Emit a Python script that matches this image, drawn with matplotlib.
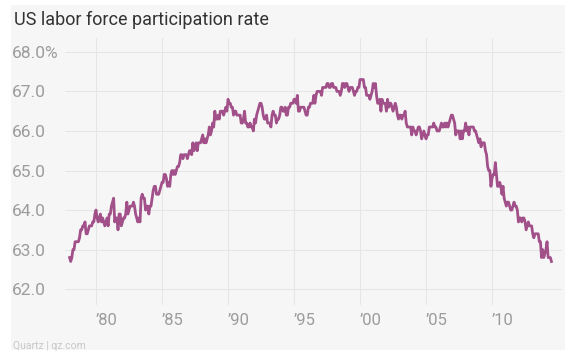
import matplotlib.pyplot as plt
from matplotlib.patches import Rectangle

plt.rcParams['font.family'] = ['Roboto', 'DejaVu Sans']

start_year = 1978
# monthly participation rate (%), Jan 1978 onward
rate = [
    62.8, 62.7, 62.8, 63.0, 63.0, 63.2, 63.2, 63.2, 63.2, 63.3, 63.5, 63.5,
    63.6, 63.6, 63.7, 63.4, 63.4, 63.5, 63.6, 63.6, 63.6, 63.7, 63.7, 63.9,
    64.0, 63.8, 63.7, 63.8, 63.9, 63.7, 63.8, 63.7, 63.6, 63.7, 63.8, 63.6,
    63.9, 63.9, 64.1, 64.2, 64.3, 63.7, 63.8, 63.8, 63.5, 63.9, 63.9, 63.6,
    63.7, 63.8, 63.8, 63.9, 64.2, 63.9, 64.0, 64.1, 64.1, 64.1, 64.2, 64.1,
    63.9, 63.8, 63.7, 63.8, 63.7, 64.3, 64.4, 64.3, 64.3, 64.0, 64.1, 64.1,
    63.9, 64.1, 64.1, 64.3, 64.5, 64.6, 64.6, 64.4, 64.4, 64.4, 64.5, 64.6,
    64.7, 64.7, 64.9, 64.9, 64.8, 64.6, 64.7, 64.6, 64.9, 65.0, 64.9, 65.0,
    64.9, 65.0, 65.1, 65.1, 65.2, 65.4, 65.4, 65.3, 65.4, 65.4, 65.4, 65.3,
    65.4, 65.5, 65.5, 65.4, 65.7, 65.5, 65.6, 65.7, 65.5, 65.7, 65.7, 65.7,
    65.8, 65.9, 65.7, 65.8, 65.7, 65.8, 65.9, 66.1, 65.9, 66.0, 66.2, 66.1,
    66.5, 66.3, 66.3, 66.4, 66.3, 66.5, 66.5, 66.5, 66.4, 66.5, 66.6, 66.5,
    66.8, 66.7, 66.7, 66.6, 66.6, 66.4, 66.5, 66.5, 66.4, 66.4, 66.4, 66.4,
    66.2, 66.2, 66.3, 66.5, 66.2, 66.2, 66.1, 66.1, 66.2, 66.1, 66.1, 66.0,
    66.3, 66.2, 66.4, 66.5, 66.6, 66.7, 66.7, 66.6, 66.4, 66.3, 66.3, 66.4,
    66.2, 66.2, 66.2, 66.1, 66.4, 66.5, 66.4, 66.4, 66.2, 66.3, 66.3, 66.4,
    66.6, 66.6, 66.5, 66.5, 66.6, 66.4, 66.4, 66.6, 66.6, 66.7, 66.7, 66.7,
    66.8, 66.8, 66.7, 66.9, 66.5, 66.5, 66.6, 66.6, 66.6, 66.6, 66.5, 66.4,
    66.4, 66.6, 66.6, 66.7, 66.7, 66.7, 66.9, 66.7, 66.9, 67.0, 67.0, 67.0,
    67.0, 66.9, 67.1, 67.1, 67.1, 67.1, 67.2, 67.2, 67.1, 67.1, 67.2, 67.2,
    67.1, 67.1, 67.1, 67.0, 67.0, 67.0, 66.9, 67.0, 67.2, 67.2, 67.1, 67.2,
    67.2, 67.1, 67.0, 67.1, 67.1, 67.1, 67.0, 66.9, 67.0, 67.0, 67.1, 67.1,
    67.3, 67.3, 67.3, 67.3, 67.1, 67.1, 66.9, 66.9, 66.9, 66.8, 66.9, 67.0,
    67.2, 67.1, 67.2, 66.9, 66.7, 66.7, 66.8, 66.5, 66.8, 66.7, 66.7, 66.7,
    66.5, 66.8, 66.6, 66.7, 66.7, 66.6, 66.5, 66.6, 66.7, 66.6, 66.4, 66.3,
    66.4, 66.4, 66.3, 66.4, 66.4, 66.5, 66.2, 66.1, 66.1, 66.1, 66.1, 65.9,
    66.1, 66.0, 66.0, 65.9, 66.0, 66.1, 66.1, 66.0, 65.8, 65.9, 66.0, 65.9,
    65.8, 65.9, 65.9, 66.1, 66.1, 66.1, 66.1, 66.2, 66.1, 66.1, 66.0, 66.0,
    66.0, 66.1, 66.2, 66.1, 66.1, 66.2, 66.1, 66.2, 66.1, 66.2, 66.3, 66.4,
    66.4, 66.3, 66.2, 65.9, 66.0, 66.0, 66.0, 65.8, 66.0, 65.8, 66.0, 66.0,
    66.2, 66.0, 66.1, 65.9, 66.1, 66.1, 66.1, 66.1, 66.0, 66.0, 65.9, 65.8,
    65.7, 65.8, 65.6, 65.7, 65.7, 65.7, 65.5, 65.4, 65.1, 65.0, 65.0, 64.6,
    64.8, 64.9, 64.9, 65.2, 64.9, 64.6, 64.6, 64.7, 64.6, 64.4, 64.6, 64.3,
    64.2, 64.1, 64.2, 64.2, 64.1, 64.0, 64.0, 64.1, 64.2, 64.1, 64.1, 64.0,
    63.7, 63.8, 63.8, 63.7, 63.8, 63.8, 63.7, 63.5, 63.6, 63.7, 63.6, 63.6,
    63.6, 63.4, 63.3, 63.4, 63.4, 63.4, 63.4, 63.2, 63.2, 62.8, 63.0, 62.8,
    62.9, 63.0, 63.2, 62.8, 62.8, 62.8, 62.7,
]
years = [start_year + i / 12 for i in range(len(rate))]

y_ticks = [62, 63, 64, 65, 66, 67, 68]
y_labels = ['62.0', '63.0', '64.0', '65.0', '66.0', '67.0', '68.0%']
x_ticks = [1980, 1985, 1990, 1995, 2000, 2005, 2010]
x_labels = ['\u201980', '\u201985', '\u201990', '\u201995', '\u201900', '\u201905', '\u201910']

W, H = 573, 357
bg = '#f6f6f6'
fig = plt.figure(figsize=(W / 100, H / 100), dpi=100, facecolor='white')
fig.patches.append(Rectangle((11 / W, 1 - 350 / H), 554 / W, 345 / H,
                             transform=fig.transFigure, facecolor=bg,
                             edgecolor='none', zorder=-10))

ax = fig.add_axes([65 / W, 1 - 305 / H, 497 / W, 267 / H])
ax.set_facecolor(bg)
ax.plot(years, rate, color='#a1508a', linewidth=2.0, solid_joinstyle='round')
ax.set_xlim(1977.65, 2015.3)
ax.set_ylim(61.6, 68.35)

for s in ax.spines.values():
    s.set_visible(False)
ax.grid(True, color='#e6e6e6', linewidth=0.8)
ax.set_axisbelow(True)
ax.tick_params(length=0)

ax.set_yticks(y_ticks, labels=y_labels)
ax.tick_params(axis='y', pad=38, labelsize=12.5, labelcolor='#9c9c9c')
for t in ax.get_yticklabels():
    t.set_horizontalalignment('left')

ax.set_xticks(x_ticks, labels=x_labels)
ax.tick_params(axis='x', pad=6, labelsize=12, labelcolor='#9c9c9c')
for t in ax.get_xticklabels():
    t.set_horizontalalignment('left')

fig.text(14 / W, 1 - 20 / H, 'US labor force participation rate',
         fontsize=13, color='#333333', va='center', ha='left')
fig.text(13 / W, 1 - 346 / H, 'Quartz | qz.com', fontsize=7.5,
         color='#c8c8c8', va='center', ha='left')

fig.savefig('out.png', dpi=100, facecolor='white')
